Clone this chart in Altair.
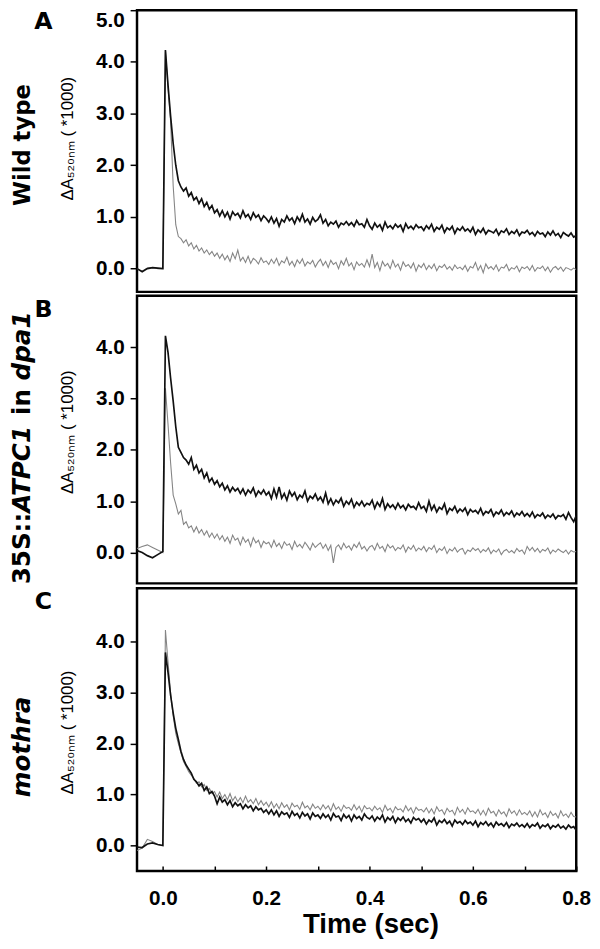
import altair as alt
import pandas as pd

# ---------------- data ----------------
PRE_T = [-0.05, -0.04, -0.03, -0.02, -0.01, 0.0]
POST_T = [round(0.005 * k, 3) for k in range(1, 161)]  # 0.005 ... 0.800 s
TIME = PRE_T + POST_T

X_TICKS = [0.0, 0.1, 0.2, 0.3, 0.4, 0.5, 0.6, 0.7, 0.8]
X_LABELS = [0.0, 0.2, 0.4, 0.6, 0.8]

# Panel A - Wild type
A_BLACK_PRE = [0.0, -0.06, 0.0, 0.02, 0.01, 0.0]
A_BLACK_POST = [
    4.23, 3.55, 2.95, 2.42, 2.0, 1.7, 1.58, 1.5, 1.56, 1.4, 1.47, 1.33, 1.38, 1.26, 1.35, 1.2, 1.28, 1.15, 1.22, 1.08,
    1.14, 1.02, 1.12, 1.0, 1.09, 0.96, 1.1, 1.03, 1.07, 0.98, 1.12, 1.0, 1.05, 0.95, 1.08, 0.99, 1.04, 0.93, 1.02, 0.97,
    0.9, 1.0, 0.88, 0.97, 0.82, 0.95, 0.9, 1.02, 0.93, 0.98, 0.87, 1.0, 0.92, 1.05, 0.9, 0.96, 0.86, 0.99, 0.91, 0.95,
    1.04, 0.88, 0.95, 0.83, 0.9, 0.86, 0.92, 0.8, 0.88, 0.85, 0.91, 0.84, 0.89, 0.82, 0.93, 0.85, 0.87, 0.8, 0.95, 0.83,
    0.76, 0.88, 0.8, 0.85, 0.74, 0.9, 0.79, 0.83, 0.77, 0.86, 0.8, 0.84, 0.72, 0.87, 0.78, 0.82, 0.76, 0.85, 0.79, 0.81,
    0.74, 0.83, 0.77, 0.86, 0.72, 0.8, 0.76, 0.84, 0.7, 0.79, 0.75, 0.82, 0.68, 0.78, 0.74, 0.81, 0.73, 0.77, 0.71, 0.8,
    0.66, 0.75, 0.7, 0.78, 0.67, 0.74, 0.72, 0.69, 0.76, 0.65, 0.73, 0.7, 0.77, 0.66, 0.72, 0.68, 0.75, 0.64, 0.71, 0.69,
    0.74, 0.66, 0.7, 0.63, 0.72, 0.67, 0.69, 0.62, 0.71, 0.65, 0.73, 0.64, 0.68, 0.6, 0.7, 0.66, 0.63, 0.69, 0.61, 0.64,
]
A_GRAY_PRE = [0.0, -0.05, 0.01, 0.02, 0.0, 0.0]
A_GRAY_POST = [
    4.2, 3.5, 2.85, 1.6, 0.85, 0.62, 0.58, 0.5, 0.56, 0.44, 0.5, 0.38, 0.45, 0.34, 0.4, 0.3, 0.36, 0.27, 0.33, 0.24,
    0.3, 0.2, 0.28, 0.17, 0.25, 0.14, 0.3, 0.19, 0.36, 0.15, 0.22, 0.12, 0.24, 0.1, 0.2, 0.16, 0.09, 0.21, 0.12, 0.15,
    0.08, 0.18, 0.1, 0.2, 0.06, 0.15, 0.11, 0.22, 0.07, 0.14, 0.04, 0.17, 0.1, 0.19, 0.05, 0.13, 0.09, 0.16, 0.03, 0.12,
    0.18, 0.06, 0.14, 0.02, 0.16, 0.08, 0.12, 0.0, 0.15, 0.07, 0.2, 0.05, 0.11, -0.02, 0.13, 0.06, 0.1, 0.03, 0.17, 0.04,
    0.28, 0.02, 0.12, -0.04, 0.14, 0.05, 0.1, 0.0, 0.16, 0.03, 0.09, -0.03, 0.13, 0.04, 0.08, 0.01, 0.11, -0.05, 0.07, 0.02,
    0.1, -0.02, 0.06, 0.0, 0.09, -0.04, 0.05, 0.02, 0.08, -0.01, 0.04, -0.03, 0.07, 0.0, 0.03, -0.02, 0.06, -0.05, 0.04, 0.01,
    0.12, -0.03, 0.06, -0.08, 0.09, 0.0, 0.04, -0.02, 0.07, -0.05, 0.03, 0.01, 0.08, -0.04, 0.02, -0.01, 0.05, -0.06, 0.03, 0.0,
    0.04, -0.03, 0.06, -0.05, 0.02, 0.0, 0.05, -0.04, 0.03, -0.07, 0.01, 0.04, -0.02, 0.03, -0.05, 0.02, 0.0, -0.03, 0.01, -0.02,
]

# Panel B - 35S::ATPC1 in dpa1
B_BLACK_PRE = [0.04, 0.0, -0.06, -0.1, -0.04, 0.02]
B_BLACK_POST = [
    4.22, 3.9, 3.4, 2.95, 2.45, 2.05, 1.95, 1.85, 1.8, 1.72, 1.85, 1.62, 1.7, 1.55, 1.62, 1.45, 1.55, 1.38, 1.45, 1.33,
    1.4, 1.28, 1.35, 1.22, 1.3, 1.18, 1.27, 1.2, 1.25, 1.15, 1.24, 1.12, 1.22, 1.16, 1.26, 1.1, 1.2, 1.14, 1.22, 1.12,
    1.18, 1.05, 1.24, 1.08, 1.28, 1.06, 1.15, 1.02, 1.2, 1.1, 1.17, 1.03, 1.12, 1.07, 1.2, 1.0, 1.1, 1.05, 1.14, 1.02,
    1.08, 0.98, 1.16, 0.95, 1.05, 0.93, 1.02, 0.97, 1.06, 0.9, 1.0, 0.94, 1.04, 0.88, 0.98, 0.92, 1.0, 0.9, 0.96, 0.93,
    1.02, 0.86, 0.98, 0.9, 1.05, 0.84, 0.95, 0.88, 0.93, 0.85, 0.96, 0.87, 0.92, 0.83, 0.94, 0.88, 0.9, 0.84, 0.97, 0.86,
    0.9, 0.8, 1.0, 0.83, 0.92, 0.79, 0.88, 0.84, 0.95, 0.76, 0.86, 0.82, 0.9, 0.78, 0.85, 0.8, 0.87, 0.74, 0.84, 0.79,
    0.82, 0.76, 0.86, 0.73, 0.8, 0.77, 0.84, 0.71, 0.79, 0.75, 0.83, 0.72, 0.78, 0.74, 0.81, 0.7, 0.77, 0.73, 0.8, 0.71,
    0.76, 0.7, 0.79, 0.68, 0.74, 0.71, 0.77, 0.67, 0.73, 0.69, 0.75, 0.66, 0.72, 0.7, 0.74, 0.65, 0.78, 0.68, 0.6, 0.72,
]
B_GRAY_PRE = [0.08, 0.12, 0.15, 0.1, 0.05, 0.0]
B_GRAY_POST = [
    3.2, 2.5, 1.75, 1.12, 0.95, 0.75, 0.82, 0.55, 0.6, 0.48, 0.52, 0.4, 0.5, 0.38, 0.45, 0.34, 0.42, 0.3, 0.38, 0.28,
    0.36, 0.25, 0.33, 0.22, 0.3, 0.18, 0.34, 0.24, 0.28, 0.15, 0.3, 0.2, 0.26, 0.12, 0.29, 0.19, 0.24, 0.1, 0.22, 0.17,
    0.2, 0.1, 0.24, 0.12, 0.18, 0.08, 0.21, 0.14, 0.17, 0.06, 0.22, 0.11, 0.16, 0.09, 0.2, 0.13, 0.05, 0.18, 0.1, 0.15,
    0.19, 0.08, 0.16, 0.04, 0.14, -0.2, 0.1, 0.15, 0.06, 0.18, 0.09, 0.13, 0.05, 0.16, 0.1, 0.2, 0.07, 0.12, 0.03, 0.11,
    0.14, 0.05, 0.18, 0.08, 0.12, 0.02, 0.16, 0.09, 0.13, 0.04, 0.1, 0.07, 0.15, 0.01, 0.11, 0.06, 0.14, 0.03, 0.09, 0.05,
    0.12, 0.02, 0.1, 0.06, 0.14, 0.0, 0.08, 0.04, 0.11, -0.02, 0.07, 0.03, 0.1, 0.01, 0.06, 0.08, -0.03, 0.05, 0.02, 0.09,
    0.04, 0.08, 0.0, 0.06, 0.02, 0.09, -0.02, 0.05, 0.01, 0.07, -0.04, 0.03, 0.06, 0.0, 0.04, -0.01, 0.08, 0.02, 0.05, -0.03,
    0.12, 0.04, 0.1, 0.02, 0.08, 0.0, 0.06, 0.03, 0.09, -0.02, 0.05, 0.01, 0.07, 0.03, 0.0, 0.05, -0.03, 0.04, 0.01, 0.02,
]

# Panel C - mothra
C_BLACK_PRE = [-0.03, -0.04, 0.03, 0.05, 0.02, 0.0]
C_BLACK_POST = [
    3.79, 3.4, 2.95, 2.6, 2.3, 2.08, 1.85, 1.69, 1.58, 1.5, 1.42, 1.3, 1.25, 1.17, 1.22, 1.08, 1.15, 1.02, 1.06, 0.97,
    0.82, 0.95, 0.85, 0.9, 0.8, 0.88, 0.76, 0.84, 0.78, 0.82, 0.72, 0.8, 0.74, 0.78, 0.68, 0.76, 0.7, 0.73, 0.65, 0.7,
    0.62, 0.7, 0.6, 0.68, 0.57, 0.66, 0.61, 0.64, 0.55, 0.67, 0.59, 0.63, 0.54, 0.65, 0.58, 0.62, 0.52, 0.64, 0.57, 0.6,
    0.53, 0.62, 0.55, 0.6, 0.5, 0.63, 0.56, 0.58, 0.49, 0.61, 0.54, 0.59, 0.48, 0.6, 0.53, 0.57, 0.5, 0.62, 0.55, 0.52,
    0.58, 0.48, 0.56, 0.51, 0.6, 0.46, 0.55, 0.5, 0.57, 0.45, 0.54, 0.49, 0.56, 0.47, 0.52, 0.44, 0.55, 0.5, 0.53, 0.46,
    0.52, 0.42, 0.5, 0.46, 0.54, 0.4, 0.49, 0.45, 0.51, 0.43, 0.48, 0.38, 0.5, 0.44, 0.47, 0.41, 0.49, 0.43, 0.46, 0.4,
    0.48, 0.37, 0.45, 0.41, 0.47, 0.39, 0.44, 0.36, 0.46, 0.4, 0.43, 0.38, 0.45, 0.35, 0.42, 0.39, 0.44, 0.37, 0.41, 0.36,
    0.43, 0.35, 0.41, 0.38, 0.44, 0.34, 0.4, 0.37, 0.42, 0.33, 0.39, 0.36, 0.41, 0.34, 0.38, 0.32, 0.4, 0.35, 0.37, 0.3,
]
C_GRAY_PRE = [-0.1, -0.05, 0.12, 0.08, 0.02, 0.0]
C_GRAY_POST = [
    4.23, 3.6, 3.0, 2.55, 2.2, 2.0, 1.82, 1.65, 1.55, 1.45, 1.38, 1.32, 1.22, 1.25, 1.15, 1.2, 1.08, 1.12, 1.02, 1.06,
    0.95, 1.05, 0.92, 1.0, 0.9, 1.02, 0.88, 0.96, 0.86, 0.94, 0.84, 0.97, 0.85, 0.9, 0.82, 0.92, 0.8, 0.88, 0.79, 0.85,
    0.76, 0.86, 0.74, 0.82, 0.72, 0.84, 0.75, 0.8, 0.7, 0.83, 0.76, 0.79, 0.71, 0.85, 0.74, 0.78, 0.7, 0.81, 0.73, 0.77,
    0.7, 0.8, 0.72, 0.78, 0.68, 0.82, 0.71, 0.76, 0.67, 0.79, 0.73, 0.75, 0.69, 0.8, 0.7, 0.77, 0.66, 0.78, 0.72, 0.74,
    0.68, 0.77, 0.7, 0.74, 0.65, 0.79, 0.69, 0.73, 0.64, 0.76, 0.7, 0.72, 0.66, 0.78, 0.68, 0.74, 0.63, 0.75, 0.69, 0.71,
    0.66, 0.74, 0.64, 0.72, 0.62, 0.76, 0.67, 0.7, 0.61, 0.73, 0.66, 0.69, 0.6, 0.75, 0.65, 0.71, 0.62, 0.74, 0.66, 0.68,
    0.63, 0.71, 0.6, 0.69, 0.59, 0.73, 0.64, 0.67, 0.58, 0.7, 0.62, 0.66, 0.57, 0.72, 0.63, 0.68, 0.59, 0.7, 0.61, 0.65,
    0.6, 0.68, 0.57, 0.66, 0.56, 0.7, 0.6, 0.64, 0.55, 0.67, 0.59, 0.63, 0.54, 0.68, 0.58, 0.62, 0.55, 0.65, 0.57, 0.56,
]

Y_TITLE = "\u0394A\u2085\u2082\u2080\u2099\u2098 ( *1000)"

NUM_FONT = "Liberation Sans"
SIDE_FONT = "DejaVu Sans"
BLACK = "#111111"
GRAY = "#858585"

# approximate DejaVu Sans Bold advance widths (em) for placing mixed-style runs
EM = {"35S::": 2.912, "ATPC1": 3.619, "in": 1.055, " ": 0.348}
B_SIZE = 25


def series_df(pre, post, name):
    return pd.DataFrame({"t": TIME, "v": pre + post, "s": name})


def panel(black_pre, black_post, gray_pre, gray_post, ydom, yvals, h,
          title_y, letter, letter_y, side_parts, side_size, bottom):
    df = pd.concat([series_df(gray_pre, gray_post, "gray"),
                    series_df(black_pre, black_post, "black")])
    xscale = alt.Scale(domain=[-0.05, 0.8], nice=False, zero=False)
    yscale = alt.Scale(domain=ydom, nice=False, zero=False)

    yaxis = alt.Axis(
        values=yvals,
        labelExpr="datum.value % 1 === 0 ? format(datum.value, '.1f') : ''",
        labelFont=NUM_FONT, labelFontWeight="bold", labelFontSize=21,
        labelColor="black", labelPadding=6, labelFlush=True,
        tickSize=7, tickWidth=1.5, tickColor="black",
        domain=False, grid=False,
        title=Y_TITLE, titleFont=NUM_FONT, titleFontSize=17,
        titleFontWeight="normal", titleColor="black",
        titleX=-71, titleY=title_y, titleAlign="center",
        titleBaseline="middle", titleAngle=270,
    )
    tick_axis = alt.Axis(
        orient="top", offset=-h, values=X_TICKS, labels=False,
        domain=False, ticks=True, tickSize=5, tickWidth=1.5,
        tickColor="black", grid=False, title=None,
    )
    if bottom:
        label_axis = alt.Axis(
            orient="bottom", values=X_LABELS, format=".1f", ticks=False,
            domain=False, grid=False, labelFont=NUM_FONT,
            labelFontWeight="bold", labelFontSize=21, labelColor="black",
            labelPadding=17, labelFlush=False,
            title="Time (sec)", titleFont=NUM_FONT, titleFontSize=28,
            titleFontWeight="bold", titleColor="black",
            titleX=237, titleY=63, titleBaseline="alphabetic",
        )
    else:
        label_axis = None

    base = alt.Chart(df)
    gray_line = base.transform_filter("datum.s === 'gray'").mark_line(
        color=GRAY, strokeWidth=1.1, clip=True
    ).encode(
        x=alt.X("t:Q", scale=xscale, axis=tick_axis),
        y=alt.Y("v:Q", scale=yscale, axis=yaxis),
        order="t:Q",
    )
    black_line = base.transform_filter("datum.s === 'black'").mark_line(
        color=BLACK, strokeWidth=1.7, clip=True
    ).encode(
        x=alt.X("t:Q", scale=xscale, axis=label_axis),
        y=alt.Y("v:Q", scale=yscale),
        order="t:Q",
    )

    dummy = alt.Chart(pd.DataFrame({"a": [0]}))
    layers = [gray_line, black_line]
    layers.append(
        dummy.mark_text(text=letter, font=SIDE_FONT, fontWeight="bold",
                        fontSize=24, align="center", baseline="middle",
                        color="black")
        .encode(x=alt.value(-95), y=alt.value(letter_y))
    )
    for txt, italic, ypos, align in side_parts:
        layers.append(
            dummy.mark_text(text=txt, font=SIDE_FONT, fontWeight="bold",
                            fontStyle="italic" if italic else "normal",
                            fontSize=side_size, angle=270, align=align,
                            baseline="alphabetic", color="black")
            .encode(x=alt.value(-109), y=alt.value(ypos))
        )
    return alt.layer(*layers).properties(width=446, height=h)


YV_A = [0.0, 0.5, 1.0, 1.5, 2.0, 2.5, 3.0, 3.5, 4.0, 4.5, 5.0]
YV_BC = [0.0, 0.5, 1.0, 1.5, 2.0, 2.5, 3.0, 3.5, 4.0, 4.5]

# mixed-style run positions for panel B's label (reading bottom to top)
b0 = 293
b1 = b0 - EM["35S::"] * B_SIZE
b2 = b1 - EM["ATPC1"] * B_SIZE - EM[" "] * B_SIZE
b3 = b2 - EM["in"] * B_SIZE - EM[" "] * B_SIZE

pA = panel(A_BLACK_PRE, A_BLACK_POST, A_GRAY_PRE, A_GRAY_POST,
           [-0.45, 5.0], YV_A, 286, 130, "A", 12,
           [("Wild type", False, 137, "center")], 23, False)
pB = panel(B_BLACK_PRE, B_BLACK_POST, B_GRAY_PRE, B_GRAY_POST,
           [-0.6, 5.0], YV_BC, 292, 138, "B", 15,
           [("35S::", False, b0, "left"), ("ATPC1", True, b1, "left"),
            ("in", False, b2, "left"), ("dpa1", True, b3, "left")],
           B_SIZE, False)
pC = panel(C_BLACK_PRE, C_BLACK_POST, C_GRAY_PRE, C_GRAY_POST,
           [-0.5, 5.05], YV_BC, 287, 146, "C", 14,
           [("mothra", True, 161, "center")], 25, True)

chart = alt.vconcat(pA, pB, pC, spacing=0).properties(
    padding={"left": 0, "top": -7, "right": 0, "bottom": 0},
    background="white",
).configure_view(stroke="black", strokeWidth=2.5)

chart.save("out.html", embed_options={"renderer": "svg", "actions": False})
